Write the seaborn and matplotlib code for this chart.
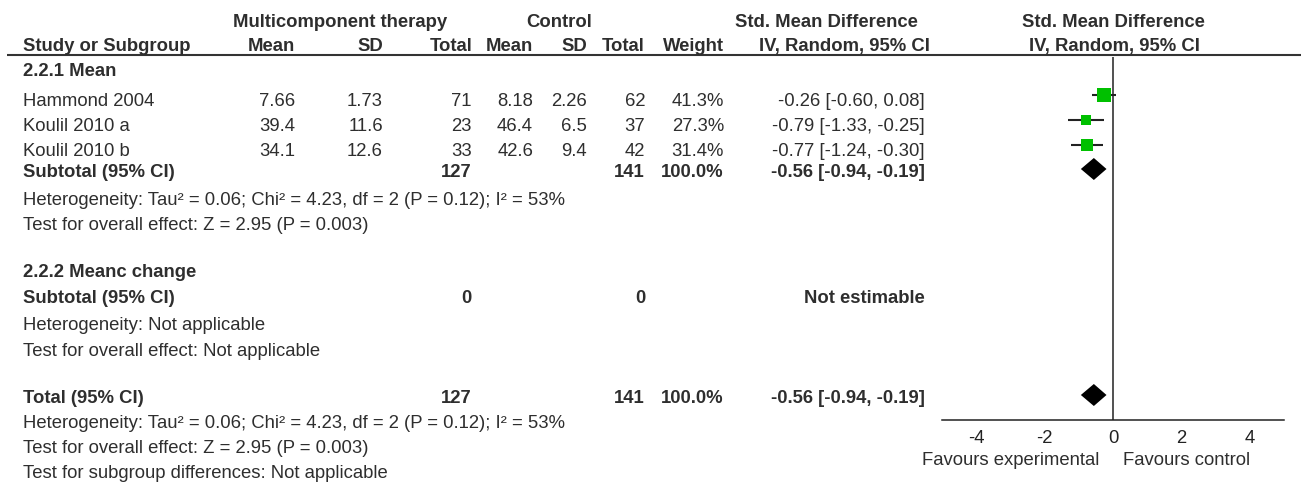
import matplotlib
matplotlib.use('Agg')
import matplotlib.pyplot as plt
import seaborn as sns
import pandas as pd

# study data
studies = ['Hammond 2004', 'Koulil 2010 a', 'Koulil 2010 b']
exp_mean = [7.66, 39.4, 34.1]
exp_sd = [1.73, 11.6, 12.6]
exp_n = [71, 23, 33]
ctl_mean = [8.18, 46.4, 42.6]
ctl_sd = [2.26, 6.5, 9.4]
ctl_n = [62, 37, 42]
weight = [41.3, 27.3, 31.4]
smd = [-0.26, -0.79, -0.77]
ci_lo = [-0.60, -1.33, -1.24]
ci_hi = [0.08, -0.25, -0.30]

# pooled results (estimate, lower, upper)
pooled = [-0.56, -0.94, -0.19]
exp_total = 127
ctl_total = 141
sub2_exp_total = 0
sub2_ctl_total = 0

xticks = [-4, -2, 0, 2, 4]

het_text = 'Heterogeneity: Tau\u00b2 = 0.06; Chi\u00b2 = 4.23, df = 2 (P = 0.12); I\u00b2 = 53%'
effect_text = 'Test for overall effect: Z = 2.95 (P = 0.003)'

sns.set_style('white')
plt.rcParams['font.family'] = ['Liberation Sans', 'DejaVu Sans']
plt.rcParams['axes.unicode_minus'] = False

FS = 13.3
TXT = '#2e2e2e'

fig = plt.figure(figsize=(13.06, 4.88), dpi=100)

# table axes in pixel coordinates
tx = fig.add_axes([0, 0, 1, 1])
tx.set_xlim(0, 1306)
tx.set_ylim(488, 0)
tx.axis('off')


def put(x, y, s, ha='right', bold=False):
    tx.text(x, y, s, ha=ha, va='baseline', fontsize=FS, color=TXT,
            fontweight='bold' if bold else 'normal')


# column right edges
c_study = 23
c_em, c_esd, c_en = 295, 383, 472
c_cm, c_csd, c_cn = 533, 587, 645
c_w, c_ci = 724, 925

# headers
put(340, 27, 'Multicomponent therapy', ha='center', bold=True)
put(559, 27, 'Control', ha='center', bold=True)
put(826, 27, 'Std. Mean Difference', ha='center', bold=True)
put(1113, 27, 'Std. Mean Difference', ha='center', bold=True)
put(c_study, 51, 'Study or Subgroup', ha='left', bold=True)
for x, s in [(c_em, 'Mean'), (c_esd, 'SD'), (c_en, 'Total'), (c_cm, 'Mean'),
             (c_csd, 'SD'), (c_cn, 'Total'), (c_w, 'Weight')]:
    put(x, 51, s, bold=True)
put(844, 51, 'IV, Random, 95% CI', ha='center', bold=True)
put(1114, 51, 'IV, Random, 95% CI', ha='center', bold=True)
tx.hlines(54.5, 7, 1301, color='#333333', lw=1.5)

# group 1
put(c_study, 76, '2.2.1 Mean', ha='left', bold=True)
study_base = [106, 131, 156]
for i, yb in enumerate(study_base):
    put(c_study, yb, studies[i], ha='left')
    put(c_em, yb, f'{exp_mean[i]:g}')
    put(c_esd, yb, f'{exp_sd[i]:g}')
    put(c_en, yb, f'{exp_n[i]}')
    put(c_cm, yb, f'{ctl_mean[i]:g}')
    put(c_csd, yb, f'{ctl_sd[i]:g}')
    put(c_cn, yb, f'{ctl_n[i]}')
    put(c_w, yb, f'{weight[i]:.1f}%')
    put(c_ci, yb, f'{smd[i]:.2f} [{ci_lo[i]:.2f}, {ci_hi[i]:.2f}]')

pooled_txt = f'{pooled[0]:.2f} [{pooled[1]:.2f}, {pooled[2]:.2f}]'
pooled_base = [177, 403]
for yb, lab in zip(pooled_base, ['Subtotal (95% CI)', 'Total (95% CI)']):
    put(c_study, yb, lab, ha='left', bold=True)
    put(c_en, yb, f'{exp_total}', bold=True)
    put(c_cn, yb, f'{ctl_total}', bold=True)
    put(c_w, yb, f'{sum(weight):.1f}%', bold=True)
    put(c_ci, yb, pooled_txt, bold=True)
put(c_study, 205, het_text, ha='left')
put(c_study, 230, effect_text, ha='left')

# group 2
put(c_study, 277, '2.2.2 Meanc change', ha='left', bold=True)
put(c_study, 303, 'Subtotal (95% CI)', ha='left', bold=True)
put(c_en, 303, f'{sub2_exp_total}', bold=True)
put(c_cn, 303, f'{sub2_ctl_total}', bold=True)
put(c_ci, 303, 'Not estimable', bold=True)
put(c_study, 330, 'Heterogeneity: Not applicable', ha='left')
put(c_study, 356, 'Test for overall effect: Not applicable', ha='left')

# overall
put(c_study, 428, het_text, ha='left')
put(c_study, 453, effect_text, ha='left')
put(c_study, 478, 'Test for subgroup differences: Not applicable', ha='left')

# forest panel
fa = fig.add_axes([942 / 1306, 0, 342 / 1306, 1])
fa.patch.set_alpha(0)

mark_y = [b - 11 for b in study_base]
df = pd.DataFrame({'smd': smd, 'y': mark_y, 'weight': weight})
fa.hlines(mark_y, ci_lo, ci_hi, color='#222222', lw=1.5, zorder=2)
sns.scatterplot(data=df, x='smd', y='y', size='weight', sizes=(58, 106),
                marker='s', color='#00C000', edgecolor='none', linewidth=0,
                legend=False, ax=fa, zorder=3)

for yb in pooled_base:
    yc = yb - 8
    fa.fill([pooled[1], pooled[0], pooled[2], pooled[0]],
            [yc, yc - 11, yc, yc + 11], color='black', lw=0, zorder=3)

fa.vlines(0, 57, 420, color='#333333', lw=1.2, zorder=1)

fa.set_xlim(-5, 5)
fa.set_ylim(488, 0)
fa.set_xlabel('')
fa.set_ylabel('')
for side in ['top', 'left', 'right']:
    fa.spines[side].set_visible(False)
fa.spines['bottom'].set_position(('data', 420))
fa.spines['bottom'].set_color('#222222')
fa.spines['bottom'].set_linewidth(1.1)
fa.set_xticks(xticks)
fa.set_xticklabels([str(t) for t in xticks])
fa.set_yticks([])
fa.tick_params(axis='x', direction='inout', length=8.6, width=1.1,
               color='#222222', labelsize=FS, labelcolor='#222222', pad=3)

fa.text(-0.41, 465, 'Favours experimental', ha='right', va='baseline',
        fontsize=FS, color=TXT)
fa.text(0.29, 465, 'Favours control', ha='left', va='baseline',
        fontsize=FS, color=TXT)

fig.savefig('out.png', dpi=100)
